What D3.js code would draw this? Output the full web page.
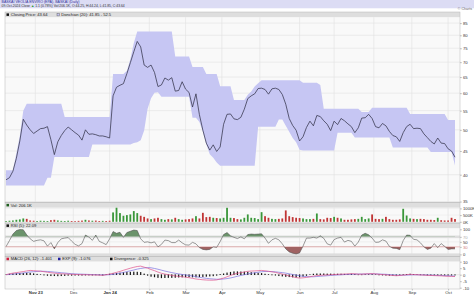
<!DOCTYPE html>
<html><head><meta charset="utf-8">
<script src="https://cdn.jsdelivr.net/npm/d3@7"></script>
<style>
html,body{margin:0;padding:0;background:#fff;}
svg{display:block;font-family:"Liberation Sans",Arial,sans-serif;}
</style></head><body>
<svg id="c" width="474" height="296"></svg>
<script>
// ---------- data (one sample every 2 trading days, starting 09-Oct-2023) ----------
const startDate = "2023-10-09";
const sampleStep = 2;
const closes = [
 39.0,39.4,40.7,43.4,47.3,52.7,51.2,50.0,49.1,49.7,
 50.3,50.4,50.8,47.6,44.2,47.1,48.6,49.8,50.7,50.0,
 49.3,48.7,47.5,50.0,48.9,49.0,48.8,48.5,48.5,48.3,
 48.0,59.2,61.8,62.4,62.9,66.1,69.8,73.7,77.6,75.5,
 69.0,68.2,69.0,66.5,62.0,62.5,64.7,64.0,64.8,60.6,
 60.8,63.5,61.2,60.2,56.0,59.8,53.9,49.9,46.8,45.2,
 46.4,44.9,45.9,51.4,54.0,54.1,52.8,52.6,53.2,55.4,
 58.4,59.2,59.8,61.4,61.5,61.1,59.7,61.3,61.5,61.1,
 59.6,56.8,52.9,51.1,49.9,47.3,48.3,50.6,52.2,51.0,
 53.7,53.4,52.3,51.4,49.8,52.2,51.3,52.9,52.3,51.5,
 50.8,49.3,50.5,53.0,53.1,54.0,52.9,50.8,50.5,51.6,
 51.0,49.6,48.6,48.3,47.2,49.3,50.8,51.4,50.3,50.4,
 50.3,49.0,48.1,47.2,46.6,48.0,46.8,46.7,45.5,45.0,
 43.64];
const donchianUpper = [
 40.9,40.9,40.9,44.5,48.5,55.0,56.9,56.9,56.9,56.9,
 56.9,56.9,56.9,56.9,56.9,56.9,56.9,53.3,53.3,53.3,
 53.3,53.3,53.3,53.3,53.3,53.3,53.3,53.3,53.3,53.3,
 53.3,66.0,66.0,66.0,66.0,67.1,71.0,77.0,81.5,81.5,
 81.5,81.5,81.5,81.5,81.5,81.5,81.5,81.5,81.5,72.0,
 72.0,72.0,72.0,72.0,68.3,68.3,68.3,68.3,66.0,66.0,
 66.0,66.0,62.1,62.1,62.1,62.1,58.0,58.0,58.0,58.0,
 59.5,60.5,62.0,63.0,64.0,64.0,64.0,64.0,64.0,64.0,
 64.0,64.0,64.0,64.0,64.0,64.0,63.2,63.2,63.2,63.2,
 63.2,62.5,55.5,55.5,55.5,55.5,55.5,55.5,55.5,55.5,
 55.5,55.5,55.5,54.6,54.6,54.6,55.8,55.8,55.8,55.8,
 55.8,55.8,55.8,55.8,55.8,55.8,55.8,54.1,54.1,54.1,
 54.1,54.1,54.1,54.1,54.1,54.1,54.1,54.1,52.5,52.5,
 52.5];
const donchianLower = [
 37.9,37.9,37.9,37.9,37.9,37.9,37.9,37.9,37.9,37.9,
 37.9,37.9,39.4,39.4,43.7,43.7,43.7,43.7,43.7,43.7,
 43.7,43.7,43.7,43.7,43.7,46.5,46.5,46.5,46.5,46.5,
 46.5,46.5,46.5,46.5,46.5,46.5,46.5,46.8,47.0,47.5,
 49.8,55.5,58.5,60.1,60.3,58.9,58.9,58.9,58.9,58.9,
 58.9,58.9,58.9,58.9,53.1,53.1,52.0,49.5,46.5,44.3,
 43.5,42.5,41.8,41.8,41.8,41.8,41.8,41.8,41.8,41.8,
 41.8,41.8,41.8,50.8,50.8,50.8,50.8,50.8,50.8,52.6,
 52.6,51.0,49.5,48.0,47.0,45.3,45.1,45.1,45.1,45.1,
 45.1,45.1,45.1,45.1,45.1,45.1,49.3,49.3,49.3,49.3,
 49.3,48.1,48.1,48.1,48.1,48.1,48.1,48.1,48.1,48.1,
 48.1,48.1,45.8,45.8,45.8,45.8,45.8,45.8,45.8,45.8,
 45.8,45.8,45.8,44.8,44.8,44.8,44.8,44.8,44.8,44.8,
 41.85];
const volumeK = [
 60,80,100,150,180,250,220,100,80,60,
 80,70,60,120,150,100,70,60,80,60,
 50,70,90,150,100,80,90,60,70,60,
 80,700,1050,650,450,500,550,800,650,450,
 370,250,200,250,300,200,150,200,180,300,
 200,150,180,200,250,420,250,670,350,370,
 300,280,250,300,1045,300,280,200,180,300,
 550,300,280,200,720,420,300,220,200,220,
 250,850,420,350,300,280,250,200,200,220,
 620,200,180,300,280,370,300,250,150,150,
 180,200,220,370,200,250,550,220,200,220,
 370,200,150,150,180,970,470,250,220,200,
 220,200,150,150,130,300,120,100,100,300,
 206.1];
const rsi5 = [
 31,55,81,95,99,98,78,62,52,56,
 58,54,33,47,22,47,62,65,67,53,
 40,34,43,77,69,56,77,52,46,39,
 62,91,84,88,68,87,92,97,95,62,
 48,50,46,50,30,40,57,55,47,47,
 57,46,38,37,48,42,27,20,18,20,
 30,28,51,79,87,74,68,63,70,62,
 79,81,80,81,82,65,44,58,64,58,
 42,22,10,5,2,6,33,65,65,68,
 65,74,64,42,37,59,65,68,49,56,
 52,33,49,77,84,78,65,48,49,58,
 53,32,25,24,19,55,77,76,60,58,
 46,30,20,25,43,27,43,32,20,22,
 22.09];
const macdLine = [
 0.0,0.7,1.2,1.6,2.0,2.4,2.9,3.3,3.1,2.9,
 2.7,2.3,1.9,1.5,1.2,0.9,0.7,0.6,0.5,0.3,
 0.2,0.1,0.0,0.0,-0.1,-0.2,-0.2,-0.3,-0.5,0.0,
 0.5,1.1,1.8,2.5,3.4,4.2,5.0,5.7,6.3,6.6,
 5.8,5.0,4.0,3.1,2.0,1.1,0.5,0.0,-0.6,-1.0,
 -1.3,-1.6,-1.9,-2.3,-2.8,-3.3,-3.6,-3.9,-4.1,-4.2,
 -4.2,-4.0,-3.3,-2.6,-1.6,-0.6,0.4,1.1,1.6,2.1,
 2.6,2.8,2.9,3.1,3.3,3.0,2.6,2.2,1.8,1.1,
 0.5,-0.2,-0.9,-1.6,-2.2,-2.6,-2.4,-2.1,-1.6,-1.1,
 -0.7,-0.5,-0.3,-0.2,0.0,0.1,0.3,0.4,0.5,0.6,
 0.8,0.7,0.4,0.4,0.6,0.7,0.8,0.6,0.3,0.1,
 -0.1,-0.4,-0.6,-0.8,-0.6,-0.3,0.0,0.3,0.1,0.0,
 -0.2,-0.3,-0.5,-0.6,-0.7,-0.8,-0.9,-1.1,-1.2,-1.3,
 -1.401];
const macdSignal = [
 0.0,0.2,0.5,0.7,1.0,1.3,1.7,2.1,2.3,2.5,
 2.7,2.6,2.5,2.3,2.0,1.8,1.5,1.3,1.0,0.8,
 0.6,0.5,0.4,0.3,0.2,0.1,0.0,-0.1,-0.1,-0.1,
 0.0,0.3,0.7,1.2,1.7,2.4,3.0,3.6,4.3,4.8,
 5.2,5.5,5.3,4.8,4.2,3.5,2.8,2.2,1.6,1.1,
 0.6,0.2,-0.2,-0.6,-1.0,-1.5,-2.0,-2.4,-2.8,-3.1,
 -3.3,-3.5,-3.5,-3.3,-3.0,-2.5,-1.9,-1.2,-0.6,0.0,
 0.6,1.1,1.5,1.9,2.3,2.5,2.5,2.4,2.2,1.9,
 1.6,1.2,0.7,0.2,-0.3,-0.8,-1.2,-1.5,-1.6,-1.6,
 -1.4,-1.2,-1.0,-0.8,-0.6,-0.4,-0.2,-0.1,0.1,0.2,
 0.3,0.4,0.5,0.5,0.5,0.6,0.6,0.6,0.5,0.4,
 0.3,0.1,-0.1,-0.3,-0.4,-0.4,-0.3,-0.2,-0.1,-0.1,
 -0.1,-0.2,-0.2,-0.3,-0.4,-0.5,-0.6,-0.7,-0.8,-0.9,
 -1.076];
const macdDivergence = [
 0.0,0.5,0.7,0.9,1.0,1.1,1.2,1.2,0.8,0.4,
 0.0,-0.3,-0.6,-0.8,-0.8,-0.9,-0.8,-0.7,-0.5,-0.5,
 -0.4,-0.4,-0.4,-0.3,-0.3,-0.3,-0.2,-0.2,-0.4,0.1,
 0.5,0.8,1.1,1.3,1.7,1.8,2.0,2.1,2.0,1.8,
 0.6,-0.5,-1.3,-1.7,-2.2,-2.4,-2.3,-2.2,-2.2,-2.1,
 -1.9,-1.8,-1.7,-1.7,-1.8,-1.8,-1.6,-1.5,-1.3,-1.1,
 -0.9,-0.5,0.2,0.7,1.4,1.9,2.3,2.3,2.2,2.1,
 2.0,1.7,1.4,1.2,1.0,0.5,0.1,-0.2,-0.4,-0.8,
 -1.1,-1.4,-1.6,-1.8,-1.9,-1.8,-1.2,-0.6,0.0,0.5,
 0.7,0.7,0.7,0.6,0.6,0.5,0.5,0.5,0.4,0.4,
 0.5,0.3,-0.1,-0.1,0.1,0.1,0.2,0.0,-0.2,-0.3,
 -0.4,-0.5,-0.5,-0.5,-0.2,0.1,0.3,0.5,0.2,0.1,
 -0.1,-0.1,-0.3,-0.3,-0.3,-0.3,-0.3,-0.4,-0.4,-0.4,
 -0.325];
const priceTicks = [35,40,45,50,55,60,65,70,75,80,85];
const volumeTicks = [0,500,1000];
const rsiTicks = [0,30,50,70,100];
const macdTicks = [-10,-5,0,5,10];
const monthStarts = ["2023-11-01","2023-12-01","2024-01-01","2024-02-01","2024-03-01","2024-04-01","2024-05-01","2024-06-03","2024-07-01","2024-08-01","2024-09-02","2024-10-01"];
const monthLabels = ["Nov 23","Dec","Jan 24","Feb","Mar","Apr","May","Jun","Jul","Aug","Sep","Oct"];

// ---------- helpers ----------
function tdIndex(d){
  const t=new Date(startDate+"T00:00:00Z"), e=new Date(d+"T00:00:00Z"); let n=0;
  while(t<e){const w=t.getUTCDay(); if(w!==0&&w!==6) n++; t.setUTCDate(t.getUTCDate()+1);}
  return n;
}
const svg=d3.select("#c");
const X0=5, X1=460, LEG=5.2;
const idx=closes.map((_,k)=>k*sampleStep);
const x=d3.scaleLinear().domain([0,idx[idx.length-1]]).range([6,455]);
const monthIdx=monthStarts.map(tdIndex);

const panels={
  main:{y0:12,y1:202.5},
  vol:{y0:202.5,y1:223},
  rsi:{y0:223,y1:256.3},
  macd:{y0:256.3,y1:289}
};
const yP=d3.scaleLog().domain([35,85]).range([201.55,23.1]);
const yV=d3.scaleLinear().domain([0,1000]).range([221.8,208.4]);
const yR=d3.scaleLinear().domain([0,100]).range([254.4,229.3]);
const yM=d3.scaleLinear().domain([-10,10]).range([287.7,261.7]);

// header
svg.append("rect").attr("x",0).attr("y",0).attr("width",474).attr("height",8.3).attr("fill","#dcdcf4");
svg.append("text").attr("x",1.5).attr("y",3.4).attr("font-size",3.4).attr("fill","#2f2f9a")
  .attr("textLength",78).attr("lengthAdjust","spacingAndGlyphs")
  .text("BASKAI VEOLIA ENVIRO (EPA), BASKAI (Daily)");
const h2=svg.append("text").attr("x",1.5).attr("y",7.4).attr("font-size",3.4).attr("fill","#333");
h2.append("tspan").text("09-Oct-2024 Close ");
h2.append("tspan").attr("fill","#2a9a2a").text("▲");
h2.append("tspan").text(" 1.1 (0.78%) Vol:206.1K, O:44.25, H:44.24, L:41.85, C:43.64");
svg.append("text").attr("x",472).attr("y",10.4).attr("font-size",3.6).attr("fill","#666")
  .attr("text-anchor","end").text("© Charts");

// panels backgrounds
Object.values(panels).forEach(p=>{
  svg.append("rect").attr("x",X0).attr("y",p.y0+LEG).attr("width",X1-X0).attr("height",p.y1-p.y0-LEG).attr("fill","#f9f9f9");
  svg.append("rect").attr("x",X0).attr("y",p.y0).attr("width",X1-X0).attr("height",LEG).attr("fill","#dedede");
  svg.append("g").selectAll("line").data(monthIdx).join("line")
    .attr("x1",d=>x(d)).attr("x2",d=>x(d)).attr("y1",p.y0+LEG).attr("y2",p.y1)
    .attr("stroke","#e1e1e1").attr("stroke-width",0.6);
});

// main horizontal grid
svg.append("g").selectAll("line").data(priceTicks).join("line")
  .attr("x1",X0).attr("x2",X1).attr("y1",d=>yP(d)).attr("y2",d=>yP(d))
  .attr("stroke","#e1e1e1").attr("stroke-width",0.6);

// clip main
const defs=svg.append("defs");
defs.append("clipPath").attr("id","mainClip").append("rect")
  .attr("x",X0).attr("y",panels.main.y0+LEG).attr("width",X1-X0).attr("height",panels.main.y1-panels.main.y0-LEG);
const gMain=svg.append("g").attr("clip-path","url(#mainClip)");
gMain.append("path").datum(closes)
  .attr("d",d3.area().x((d,i)=>x(idx[i])).y0((d,i)=>yP(donchianLower[i])).y1((d,i)=>yP(donchianUpper[i])))
  .attr("fill","#c6c6f3");
gMain.append("path").datum(closes)
  .attr("d",d3.line().x((d,i)=>x(idx[i])).y(d=>yP(d)))
  .attr("fill","none").attr("stroke","#33334a").attr("stroke-width",0.75);

// volume
svg.append("g").selectAll("line").data(volumeTicks.slice(1)).join("line")
  .attr("x1",X0).attr("x2",X1).attr("y1",d=>yV(d)).attr("y2",d=>yV(d))
  .attr("stroke","#e6e6e6").attr("stroke-width",0.5);
svg.append("g").selectAll("rect").data(volumeK).join("rect")
  .attr("x",(d,i)=>x(idx[i])-0.9).attr("width",1.8)
  .attr("y",d=>yV(d)).attr("height",d=>yV(0)-yV(d))
  .attr("fill",(d,i)=>i>0&&closes[i]<closes[i-1]?"#c03535":"#3a973a");

// RSI
svg.append("rect").attr("x",X0).attr("y",yR(70)-1.3).attr("width",X1-X0).attr("height",2.6).attr("fill","#dddddd");
svg.append("rect").attr("x",X0).attr("y",yR(0)-1).attr("width",X1-X0).attr("height",panels.rsi.y1-yR(0)+1).attr("fill","#dddddd");
svg.append("line").attr("x1",X0).attr("x2",X1).attr("y1",yR(50)).attr("y2",yR(50)).attr("stroke","#e4e4e4").attr("stroke-width",0.5);
svg.append("line").attr("x1",X0).attr("x2",X1).attr("y1",yR(30)).attr("y2",yR(30)).attr("stroke","#e39a9a").attr("stroke-width",0.6);
defs.append("clipPath").attr("id","rsiHi").append("rect").attr("x",X0).attr("y",yR(100)-3).attr("width",X1-X0).attr("height",yR(70)-yR(100)+3);
defs.append("clipPath").attr("id","rsiLo").append("rect").attr("x",X0).attr("y",yR(30)).attr("width",X1-X0).attr("height",yR(0)-yR(30)+3);
svg.append("path").datum(rsi5).attr("clip-path","url(#rsiHi)")
  .attr("d",d3.area().x((d,i)=>x(idx[i])).y0(yR(70)).y1(d=>yR(d))).attr("fill","#6b936b");
svg.append("path").datum(rsi5).attr("clip-path","url(#rsiLo)")
  .attr("d",d3.area().x((d,i)=>x(idx[i])).y0(yR(30)).y1(d=>yR(d))).attr("fill","#a06262");
svg.append("path").datum(rsi5)
  .attr("d",d3.line().x((d,i)=>x(idx[i])).y(d=>yR(d)))
  .attr("fill","none").attr("stroke","#555").attr("stroke-width",0.6);

// MACD
svg.append("line").attr("x1",X0).attr("x2",X1).attr("y1",yM(0)).attr("y2",yM(0)).attr("stroke","#d8d8d8").attr("stroke-width",0.5);
svg.append("g").selectAll("rect").data(macdDivergence).join("rect")
  .attr("x",(d,i)=>x(idx[i])-0.6).attr("width",1.2)
  .attr("y",d=>Math.min(yM(0),yM(d))-0.3).attr("height",d=>Math.abs(yM(d)-yM(0))+0.6)
  .attr("fill","#111");
svg.append("path").datum(macdSignal)
  .attr("d",d3.line().x((d,i)=>x(idx[i])).y(d=>yM(d)))
  .attr("fill","none").attr("stroke","#7a70e0").attr("stroke-width",0.7);
svg.append("path").datum(macdLine)
  .attr("d",d3.line().x((d,i)=>x(idx[i])).y(d=>yM(d)))
  .attr("fill","none").attr("stroke","#e0508a").attr("stroke-width",0.7);

// frames
Object.values(panels).forEach(p=>{
  svg.append("rect").attr("x",X0).attr("y",p.y0).attr("width",X1-X0).attr("height",p.y1-p.y0)
    .attr("fill","none").attr("stroke","#b8b8b8").attr("stroke-width",0.5);
});

// legends
function legend(y0,items){
  items.forEach(it=>{
    svg.append("rect").attr("x",it.x).attr("y",y0+1.4).attr("width",2.5).attr("height",2.5)
      .attr("fill",it.c).attr("stroke",it.s||"none").attr("stroke-width",0.4);
    svg.append("text").attr("x",it.x+4.3).attr("y",y0+4.1).attr("font-size",4.1).attr("fill","#222").text(it.t);
  });
}
legend(panels.main.y0,[{x:6.5,c:"#111",t:"Closing Price: "+closes[closes.length-1]},
  {x:57,c:"#c6c6f3",s:"#555",t:"Donchian (20): "+donchianLower[donchianLower.length-1]+" - "+donchianUpper[donchianUpper.length-1]}]);
legend(panels.vol.y0,[{x:6.5,c:"#1f5f1f",t:"Vol: "+volumeK[volumeK.length-1]+"K"}]);
legend(panels.rsi.y0,[{x:6.5,c:"#111",t:"RSI (5): "+rsi5[rsi5.length-1].toFixed(2)}]);
legend(panels.macd.y0,[{x:6.5,c:"#d02040",t:"MACD (26, 12): "+macdLine[macdLine.length-1]},
  {x:58,c:"#2020a0",t:"EXP (9): "+macdSignal[macdSignal.length-1]},
  {x:110,c:"#111",t:"Divergence: "+macdDivergence[macdDivergence.length-1]}]);

// right axes
function rAxis(scale,ticks,fmt,colorFn){
  const g=svg.append("g").attr("transform",`translate(${X1},0)`)
    .call(d3.axisRight(scale).tickValues(ticks).tickFormat(fmt).tickSize(1.8).tickPadding(1.2));
  g.select(".domain").remove();
  g.selectAll("line").attr("stroke","#888").attr("stroke-width",0.5);
  g.selectAll("text").attr("font-size",4.2).attr("fill",(d)=>colorFn?colorFn(d):"#333")
    .attr("font-family","Liberation Sans, Arial, sans-serif");
}
rAxis(yP,priceTicks,d=>d);
rAxis(yV,volumeTicks,d=>d+"K");
rAxis(yR,rsiTicks,d=>d,d=>d===70?"#aaa":d===30?"#d08080":"#333");
rAxis(yM,macdTicks,d=>d);

// bottom axis
const gx=svg.append("g").attr("transform",`translate(0,${panels.macd.y1})`)
  .call(d3.axisBottom(x).tickValues(monthIdx).tickFormat((d,i)=>monthLabels[i]).tickSize(1.5).tickPadding(0.6));
gx.select(".domain").remove();
gx.selectAll("line").attr("stroke","#888").attr("stroke-width",0.5);
gx.selectAll("text").attr("font-size",4.3).attr("fill","#333")
  .attr("font-family","Liberation Sans, Arial, sans-serif")
  .attr("font-weight",(d,i)=>monthLabels[i].includes(" ")?"bold":"normal");
</script>
</body></html>
